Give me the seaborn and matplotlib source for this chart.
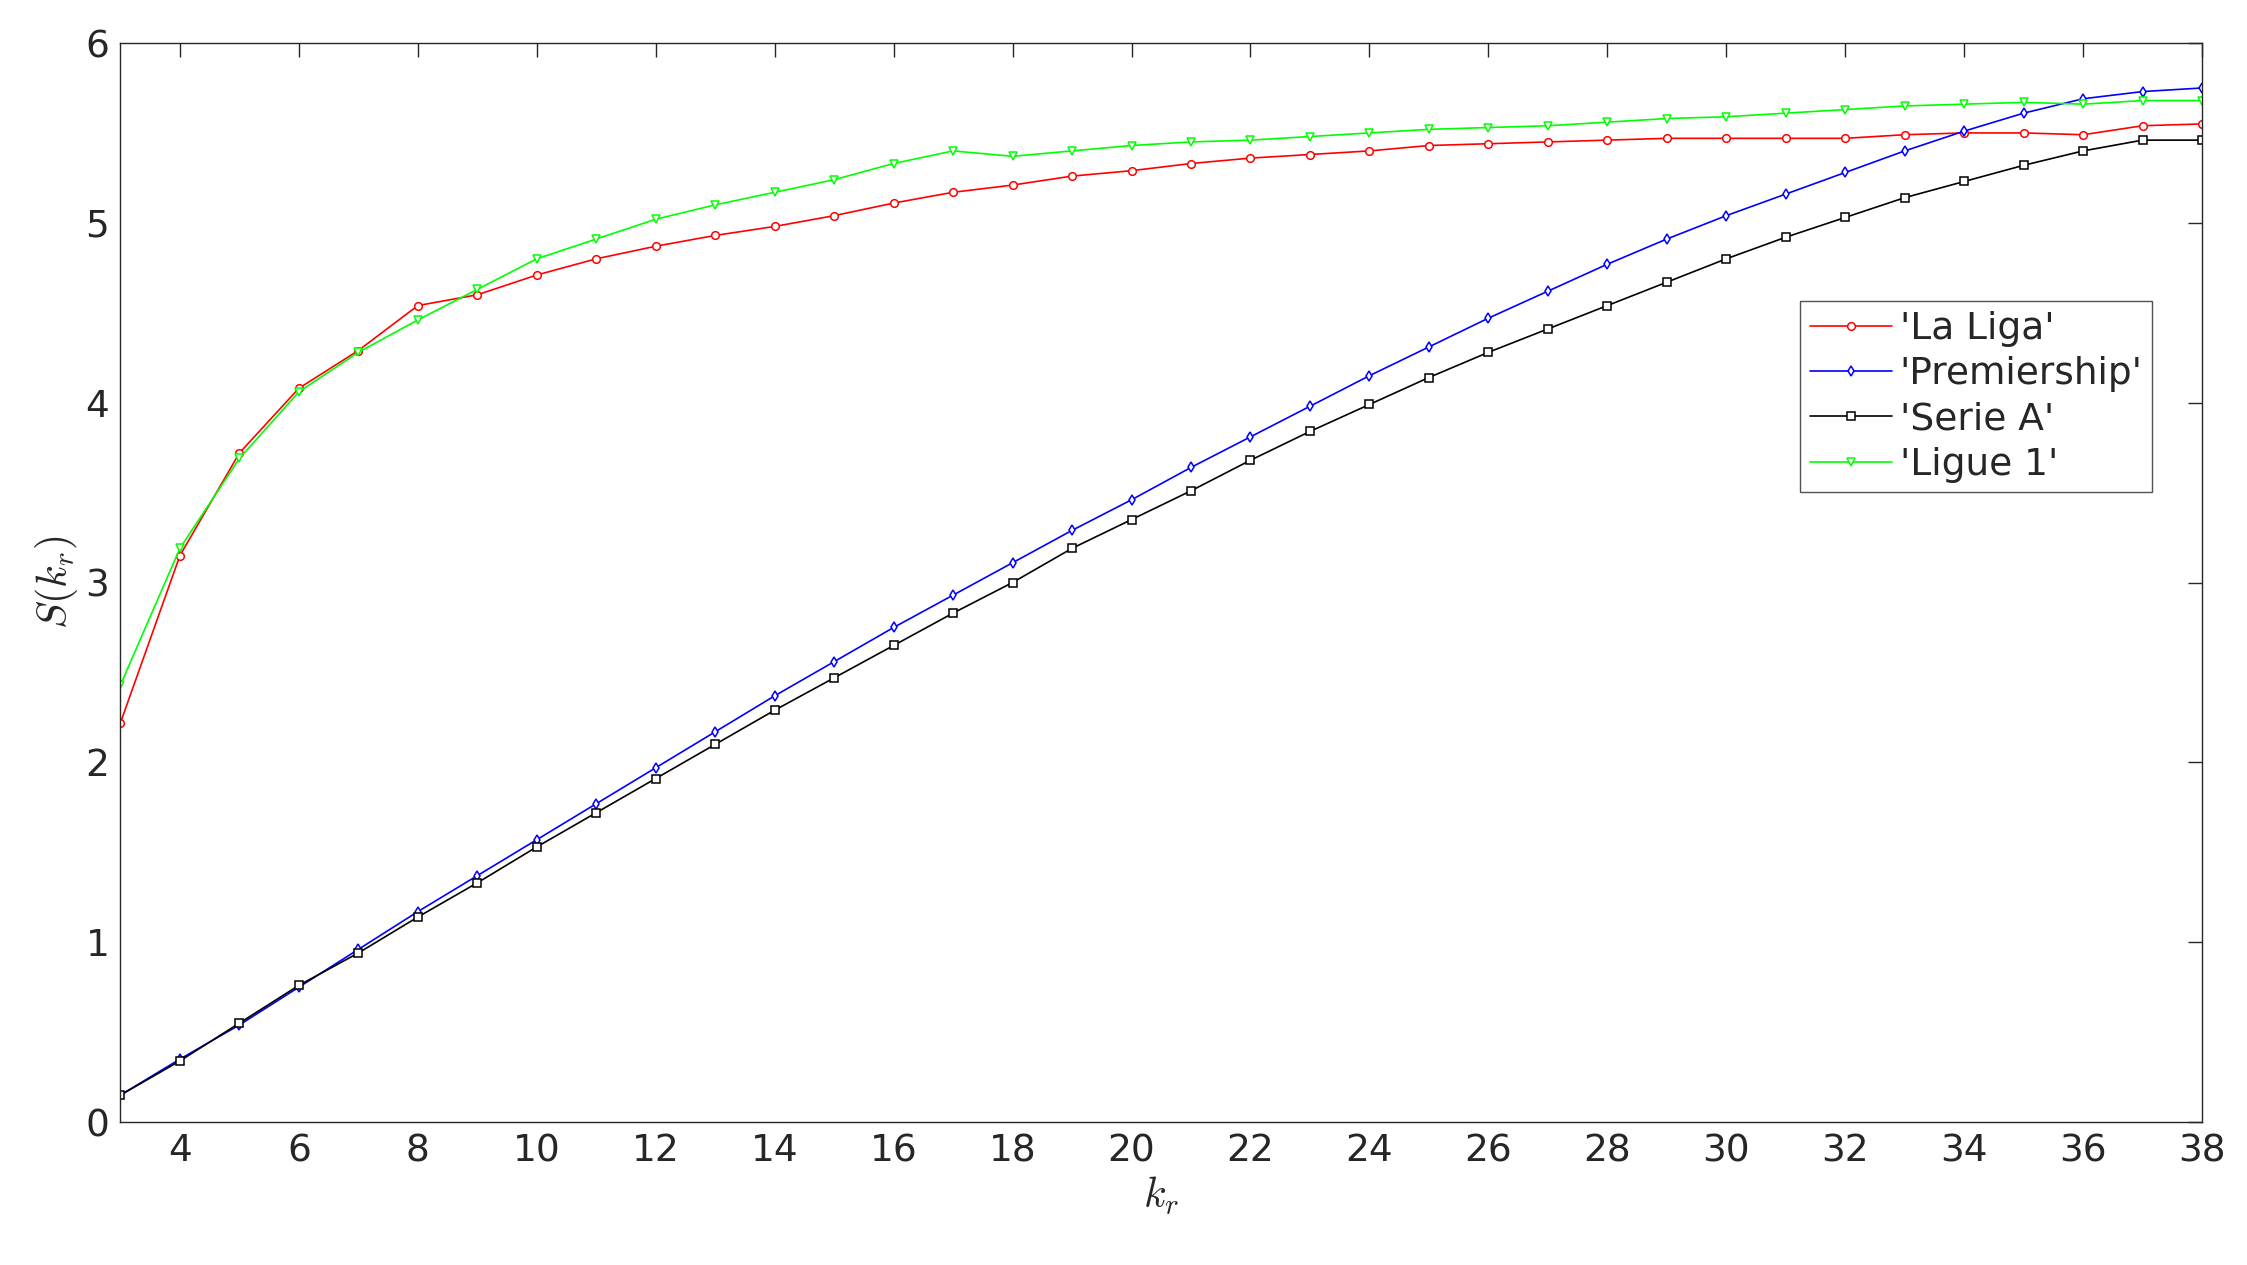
import matplotlib
matplotlib.use("Agg")
import matplotlib.pyplot as plt
import seaborn as sns
import pandas as pd
import numpy as np

k = list(range(3, 39))
la_liga = [2.22,3.15,3.72,4.08,4.29,4.54,4.60,4.71,4.80,4.87,4.93,4.98,5.04,5.11,5.17,5.21,5.26,5.29,5.33,5.36,5.38,5.40,5.43,5.44,5.45,5.46,5.47,5.47,5.47,5.47,5.49,5.50,5.50,5.49,5.54,5.55]
premiership = [0.15,0.35,0.54,0.75,0.96,1.17,1.37,1.57,1.77,1.97,2.17,2.37,2.56,2.75,2.93,3.11,3.29,3.46,3.64,3.81,3.98,4.15,4.31,4.47,4.62,4.77,4.91,5.04,5.16,5.28,5.40,5.51,5.61,5.69,5.73,5.75]
serie_a = [0.15,0.34,0.55,0.76,0.94,1.14,1.33,1.53,1.72,1.91,2.10,2.29,2.47,2.65,2.83,3.00,3.19,3.35,3.51,3.68,3.84,3.99,4.14,4.28,4.41,4.54,4.67,4.80,4.92,5.03,5.14,5.23,5.32,5.40,5.46,5.46]
ligue_1 = [2.43,3.19,3.69,4.06,4.28,4.46,4.63,4.80,4.91,5.02,5.10,5.17,5.24,5.33,5.40,5.37,5.40,5.43,5.45,5.46,5.48,5.50,5.52,5.53,5.54,5.56,5.58,5.59,5.61,5.63,5.65,5.66,5.67,5.66,5.68,5.68]

names = ["'La Liga'", "'Premiership'", "'Serie A'", "'Ligue 1'"]
series = [la_liga, premiership, serie_a, ligue_1]
colors = ["#ff0000", "#0000ff", "#000000", "#00ff00"]
markers = ["o", "d", "s", "v"]

sns.set_style("white")
plt.rcParams['font.family'] = ['DejaVu Sans']
plt.rcParams['mathtext.fontset'] = 'cm'
fig = plt.figure(figsize=(22.47, 12.65), dpi=100)
ax = fig.add_axes([0.0536, 0.113, 0.9264, 0.853])
for n, s, c, m in zip(names, series, colors, markers):
    df = pd.DataFrame({"k": k, "S": s})
    sns.lineplot(data=df, x="k", y="S", ax=ax, color=c, marker=m, markersize=5.5,
                 markerfacecolor="white", markeredgecolor=c, markeredgewidth=1.1,
                 linewidth=1.2, label=n)
ax.set_xlim(3, 38)
ax.set_ylim(0, 6)
ax.set_xticks(range(4, 39, 2))
ax.set_yticks(range(0, 7))
ax.tick_params(direction="in", length=10, labelsize=27, top=True, right=True, width=1, pad=8)
for sp in ax.spines.values():
    sp.set_color("#262626"); sp.set_linewidth(1)
ax.set_xlabel(r"$k_r$", fontsize=30, labelpad=4)
ax.set_ylabel(r"$S(k_r)$", fontsize=30)
leg = ax.legend(loc="upper right", bbox_to_anchor=(0.985, 0.778), fontsize=27,
                frameon=True, fancybox=False, edgecolor="#262626", handlelength=2.2,
                borderpad=0.25, labelspacing=0.25, handletextpad=0.2)
leg.get_frame().set_linewidth(1)
fig.savefig("out.png", dpi=100)
